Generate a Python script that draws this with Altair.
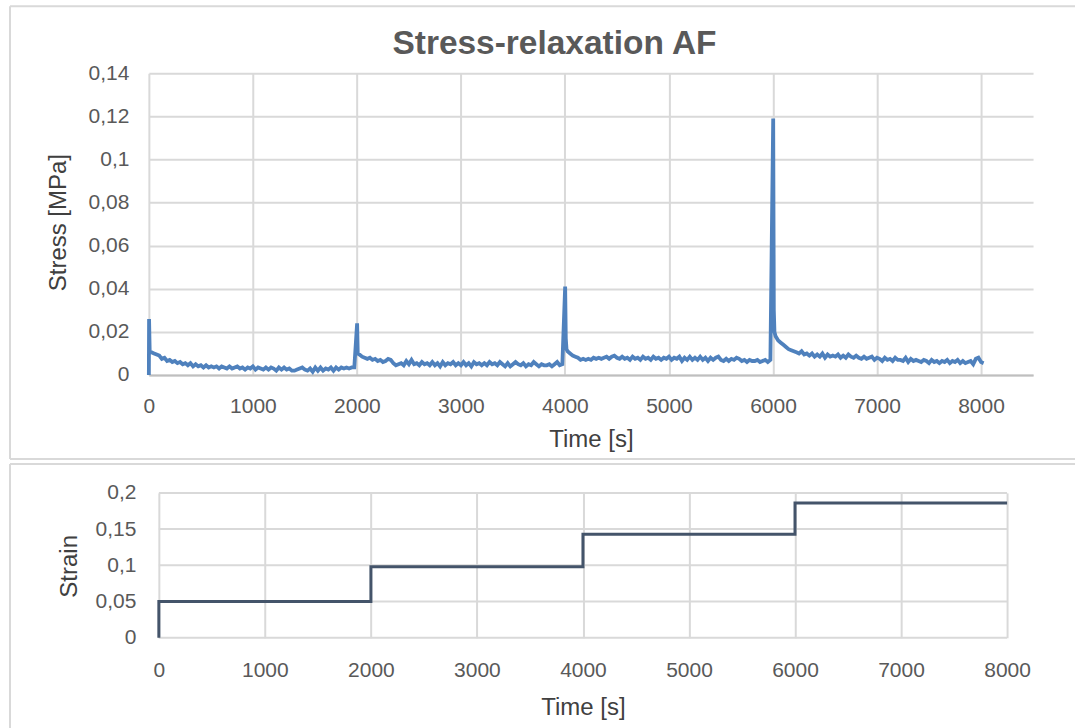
import altair as alt
import pandas as pd

# ---------------- data ----------------
# Stress in kPa (converted to MPa below). Each step: a few points around the
# loading spike, then samples every 25 s.
s1_head_t = [0, 2, 8]
s1_head = [0, 26, 11]
s1_body = [10.5, 10, 9.5, 9, 7.5, 8, 6.5, 7,
           6, 6.5, 5.5, 6, 5, 5.5, 4.5, 5.5,
           4, 5, 4, 4.5, 3.5, 4.5, 3.5, 4,
           3.5, 4, 3, 4, 3.5, 3, 4, 3,
           3.5, 4, 3, 3.5, 2.5, 3.5, 3, 4,
           2.5, 3.5, 3, 2.5, 3.5, 2.5, 3.5, 3,
           2, 3.5, 2.5, 3.5, 2.5, 3, 2, 2,
           2.5, 3, 3.5, 2.5, 2, 3, 1.5, 3.5,
           2, 3.5, 2, 3, 2.5, 3.5, 2, 3.5,
           2.5, 3.5, 3, 3.5, 3, 3.5, 3.5]

s2_head_t = [2002, 2008]
s2_head = [24, 10]
s2_body = [9.5, 8.5, 8, 7.5, 8, 7, 7.5, 6.5,
           7, 6, 6.5, 7.5, 7, 5.5, 4.5, 5,
           5.5, 4.5, 6.5, 5, 7, 5, 5.5, 4.5,
           6, 5, 5.5, 4.5, 6, 4.5, 5.5, 4,
           6, 4.5, 5.5, 5, 6, 4.5, 5.5, 4.5,
           6, 4.5, 5.5, 4, 6, 5, 5.5, 4.5,
           5.5, 4.5, 6, 5, 5.5, 4.5, 6, 5,
           4, 5.5, 4, 5, 6, 5, 4.5, 5.5,
           4, 5, 4.5, 6, 5, 4, 5, 4.5,
           4.5, 5, 4, 5, 6, 4.5, 5]

s3_head_t = [4002, 4008, 4015]
s3_head = [41, 17, 12]
s3_body = [11, 10, 9, 8.5, 8, 7, 7.5, 7,
           7.5, 7, 8, 7.5, 8, 7.5, 8, 8.5,
           7.5, 8.5, 9, 8, 7.5, 8.5, 7.5, 8,
           7, 8.5, 7.5, 8, 7, 8.5, 7.5, 8,
           7, 8.5, 7.5, 8, 7, 8, 7.5, 8.5,
           7, 8, 7.5, 8.5, 6.5, 8, 7, 8.5,
           7, 8, 7, 8.5, 7, 8, 6.5, 8,
           7, 8, 8.5, 7, 6.5, 7.5, 6.5, 7.5,
           7, 8, 7.5, 6.5, 7, 6, 7, 6.5,
           6.5, 7, 6, 6.5, 7, 6, 7]

s4_head_t = [6002, 6008, 6014]
s4_head = [119, 30, 20]
s4_body = [18, 16, 15, 14, 13, 12, 11.5, 11,
           10.5, 10, 11, 9.5, 10, 9, 10, 8.5,
           9.5, 8.5, 10, 8, 9.5, 8.5, 9, 8.5,
           9.5, 8, 9, 8, 9.5, 8.5, 8, 9,
           8, 7.5, 8.5, 7.5, 8, 8.5, 7, 8,
           7.5, 6.5, 8, 7, 7.5, 6.5, 8, 7,
           7, 6.5, 8, 6, 7.5, 6.5, 7, 6.5,
           6, 7, 6.5, 5.5, 7, 6, 6.5, 5.5,
           6.5, 6, 7, 5.5, 6.5, 6, 7, 5.5,
           6.5, 5.5, 6, 6.5, 5, 7.5, 8, 6, 5.5]

step_starts = [0, 2000, 4000, 6000]
sample_dt = 25

strain_t = [0, 0, 2000, 4000, 6000, 8000]
strain_v = [0, 0.05, 0.098, 0.143, 0.186, 0.186]

stress_x_ticks = [0, 1000, 2000, 3000, 4000, 5000, 6000, 7000, 8000]
stress_y_ticks = [0, 0.02, 0.04, 0.06, 0.08, 0.1, 0.12, 0.14]
strain_x_ticks = [0, 1000, 2000, 3000, 4000, 5000, 6000, 7000, 8000]
strain_y_ticks = [0, 0.05, 0.1, 0.15, 0.2]

# ---------------- build tables ----------------
times, vals = [], []
for (ht, hv, body, start) in [(s1_head_t, s1_head, s1_body, step_starts[0]),
                              (s2_head_t, s2_head, s2_body, step_starts[1]),
                              (s3_head_t, s3_head, s3_body, step_starts[2]),
                              (s4_head_t, s4_head, s4_body, step_starts[3])]:
    times += ht
    vals += hv
    times += [start + sample_dt * (k + 1) for k in range(len(body))]
    vals += body

stress_df = pd.DataFrame({"t": times, "v": [x / 1000.0 for x in vals]})
stress_df["i"] = range(len(stress_df))
strain_df = pd.DataFrame({"t": strain_t, "v": strain_v, "i": range(len(strain_t))})
strain_grid_df = pd.DataFrame({"v": strain_y_ticks})

one = pd.DataFrame({"k": [0]})
comma = "replace(format(datum.value, '.2~f'), '.', ',')"
BORDER = "#D9D9D9"

# ---------------- top chart ----------------
W1, H1 = 885, 302
stress_line = alt.Chart(stress_df).mark_line(color="#4F81BD", strokeWidth=3.8).encode(
    x=alt.X("t:Q", scale=alt.Scale(domain=[0, 8500], nice=False, zero=False),
            axis=alt.Axis(values=stress_x_ticks, format="d", title="Time [s]",
                          labelFlush=False, labelPadding=21, titleY=65,
                          titleBaseline="middle")),
    y=alt.Y("v:Q", scale=alt.Scale(domain=[0, 0.14], nice=False),
            axis=alt.Axis(values=stress_y_ticks, labelExpr=comma, title="Stress [MPa]",
                          labelPadding=20, titleX=-90, titleY=149, titleBaseline="middle")),
    order="i:Q",
)
t_top = alt.Chart(one).mark_rule(color=BORDER, strokeWidth=2).encode(
    x=alt.value(-139), x2=alt.value(927), y=alt.value(-67))
t_bot = alt.Chart(one).mark_rule(color=BORDER, strokeWidth=2).encode(
    x=alt.value(-139), x2=alt.value(927), y=alt.value(386))
t_left = alt.Chart(one).mark_rule(color=BORDER, strokeWidth=2).encode(
    x=alt.value(-139), y=alt.value(-67), y2=alt.value(386))
t_title = alt.Chart(one).mark_text(
    text="Stress-relaxation AF", font="Liberation Sans", fontSize=33.5, fontWeight="bold",
    color="#595959", align="center", baseline="middle").encode(
    x=alt.value(406), y=alt.value(-29))
top = alt.layer(stress_line, t_top, t_bot, t_left, t_title).properties(width=W1, height=H1)

# ---------------- bottom chart ----------------
# plot area of this panel starts 10 px to the right of the upper one
W2, H2 = 859, 145
x2_scale = alt.Scale(domain=[0, 8000], range=[10, W2], nice=False, zero=False)
y2_scale = alt.Scale(domain=[0, 0.2], nice=False)
y2_axis = alt.Axis(values=strain_y_ticks, labelExpr=comma, title="Strain",
                   grid=False, labelPadding=13, titleX=-79, titleY=73,
                   titleBaseline="middle")
x2_axis = alt.Axis(values=strain_x_ticks, format="d", title="Time [s]",
                   labelFlush=False, domain=False, labelPadding=22,
                   titleX=(10 + W2) / 2, titleY=70, titleBaseline="middle")
strain_grid = alt.Chart(strain_grid_df).mark_rule(color="#D9D9D9", strokeWidth=2).encode(
    y=alt.Y("v:Q", scale=y2_scale, axis=y2_axis),
    x=alt.value(10), x2=alt.value(W2),
)
strain_line = alt.Chart(strain_df).mark_line(color="#44546A", strokeWidth=3,
                                             interpolate="step-after").encode(
    x=alt.X("t:Q", scale=x2_scale, axis=x2_axis),
    y=alt.Y("v:Q", scale=y2_scale, axis=y2_axis),
    order="i:Q",
)
b_top = alt.Chart(one).mark_rule(color=BORDER, strokeWidth=2).encode(
    x=alt.value(-139), x2=alt.value(927), y=alt.value(-29))
b_left = alt.Chart(one).mark_rule(color=BORDER, strokeWidth=2).encode(
    x=alt.value(-139), y=alt.value(-29), y2=alt.value(236))
bottom = alt.layer(strain_grid, strain_line, b_top, b_left).properties(width=W2, height=H2)

chart = alt.concat(top, bottom, columns=1, spacing=1).properties(
    padding={"left": 8, "top": 4, "right": 0, "bottom": 0},
    background="white",
).configure_view(stroke="transparent").configure_axis(
    labelFont="Liberation Sans", labelFontSize=21, labelColor="#595959",
    titleFont="Liberation Sans", titleFontSize=24, titleColor="#404040",
    titleFontWeight="normal", gridColor="#D9D9D9", gridWidth=2,
    ticks=False, domain=False,
).configure_axisX(domain=True, domainColor="#BFBFBF", domainWidth=2)

chart.save("out.html", embed_options={"renderer": "svg", "actions": False})
